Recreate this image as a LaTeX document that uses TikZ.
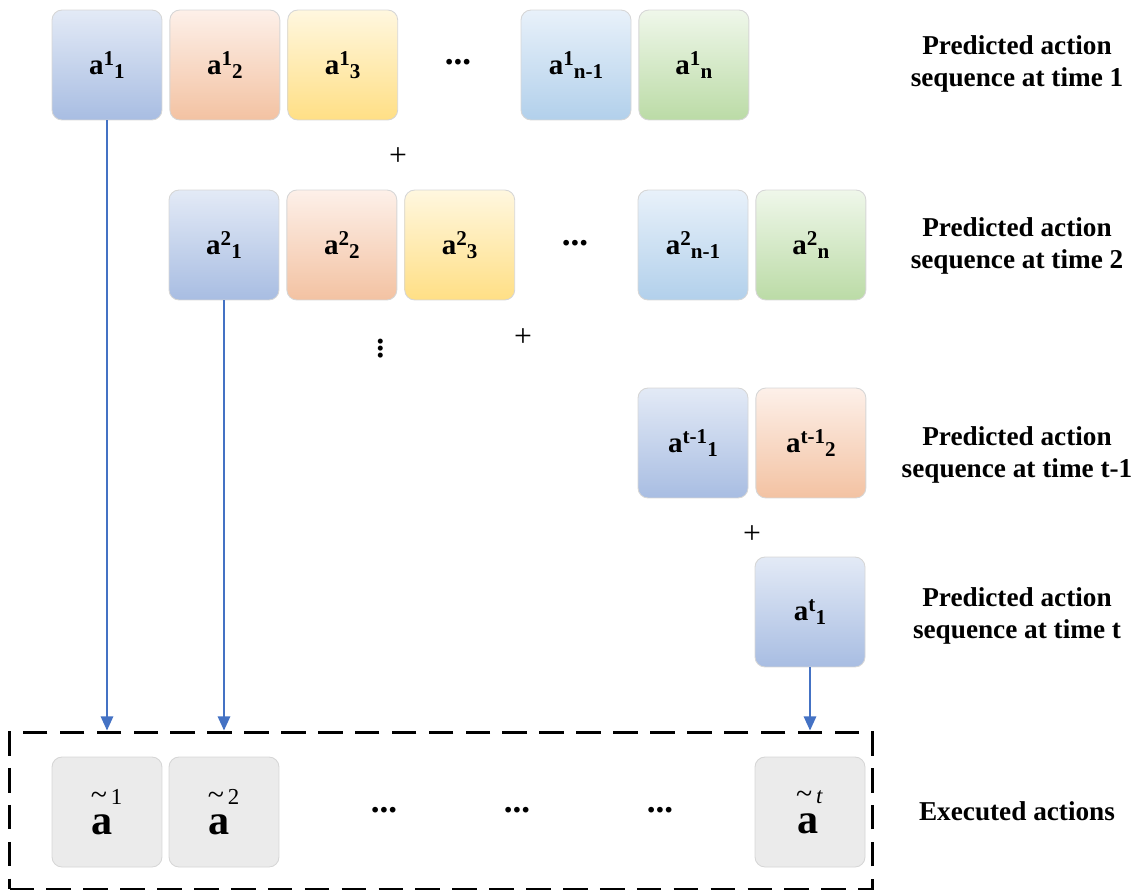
\documentclass[tikz,border=0pt]{standalone}
\usepackage{fontspec}
\setmainfont{Liberation Serif}
\usepackage{tikz}
\usetikzlibrary{positioning, arrows.meta}
\usepackage{xcolor}

\definecolor{arrowblue}{HTML}{4472C4}
\definecolor{edgegray}{HTML}{D6D6D6}

\newcommand{\seqa}[2]{\textbf{{\fontsize{16.5}{16.5}\selectfont a}\raisebox{5pt}{\fontsize{12}{12}\selectfont #1}\raisebox{-2.5pt}{\fontsize{12}{12}\selectfont #2}}}
\newcommand{\exa}[1]{{\fontsize{24}{24}\selectfont\textbf{a}}\hspace{-12.5pt}\raisebox{17pt}{\fontsize{13}{13}\selectfont{\fontsize{17}{17}\selectfont\textasciitilde}\,#1}}

\begin{document}
\begin{tikzpicture}[x=0.02cm, y=-0.02cm,
    blk/.style={rounded corners=0.2cm, draw=edgegray, line width=0.5pt,
        minimum width=2.2cm, minimum height=2.2cm, inner sep=0pt},
    bl/.style={blk, top color={rgb,255:red,227;green,234;blue,246}, bottom color={rgb,255:red,168;green,189;blue,226}},
    og/.style={blk, top color={rgb,255:red,253;green,240;blue,233}, bottom color={rgb,255:red,243;green,194;blue,162}},
    yl/.style={blk, top color={rgb,255:red,255;green,247;blue,223}, bottom color={rgb,255:red,255;green,223;blue,133}},
    lb/.style={blk, top color={rgb,255:red,232;green,241;blue,250}, bottom color={rgb,255:red,178;green,208;blue,235}},
    gn/.style={blk, top color={rgb,255:red,239;green,247;blue,234}, bottom color={rgb,255:red,187;green,219;blue,166}},
    gy/.style={blk, fill={rgb,255:red,235;green,235;blue,235}},
    lbl/.style={align=center, font=\fontsize{15.5}{18.7}\selectfont\bfseries},
    sym/.style={font=\fontsize{18}{18}\selectfont},
    dts/.style={font=\fontsize{20}{20}\selectfont\bfseries},
    flow/.style={-{Triangle[width=7pt,length=8pt]}, draw=arrowblue, line width=1.1pt}]
    \useasboundingbox (0,0) rectangle (1148,892);

    % time 1
    \node[bl] (a11) at (107,65) {\seqa{1}{1}};
    \node[og, right = 0.14cm of a11] (a12) {\seqa{1}{2}};
    \node[yl, right = 0.14cm of a12] (a13) {\seqa{1}{3}};
    \node[dts] (d1) at (458,62) {...};
    \node[lb] (a1m) at (576,65) {\seqa{1}{n-1}};
    \node[gn, right = 0.14cm of a1m] (a1n) {\seqa{1}{n}};

    % time 2
    \node[bl] (a21) at (224,245) {\seqa{2}{1}};
    \node[og, right = 0.14cm of a21] (a22) {\seqa{2}{2}};
    \node[yl, right = 0.14cm of a22] (a23) {\seqa{2}{3}};
    \node[dts] (d2) at (575,243) {...};
    \node[lb] (a2m) at (693,245) {\seqa{2}{n-1}};
    \node[gn, right = 0.14cm of a2m] (a2n) {\seqa{2}{n}};

    % time t-1 and t
    \node[bl] (at1) at (693,443) {\seqa{t-1}{1}};
    \node[og, right = 0.14cm of at1] (at2) {\seqa{t-1}{2}};
    \node[bl] (att) at (810,612) {\seqa{t}{1}};

    \node[sym] (p1) at (398,157) {+};
    \node[sym] (p2) at (523,338) {+};
    \node[sym] (p3) at (752,535) {+};
    \node[font=\fontsize{24}{24}\selectfont] (v1) at (381,343) {$\vdots$};

    % executed actions
    \node[draw, dash pattern=on 14pt off 7pt, line width=1.7pt,
        minimum width=17.26cm, minimum height=3.14cm] (ex) at (441,810.5) {};
    \node[gy] (e1) at (107,812) {\exa{1}};
    \node[gy] (e2) at (224,812) {\exa{2}};
    \node[gy] (et) at (810,812) {\exa{\textit{t}}};
    \node[dts] (d3) at (384,810) {...};
    \node[dts] (d4) at (517,810) {...};
    \node[dts] (d5) at (660,810) {...};

    % labels
    \node[lbl] (l1) at (1017,64) {Predicted action\\sequence at time 1};
    \node[lbl] (l2) at (1017,246) {Predicted action\\sequence at time 2};
    \node[lbl] (l3) at (1017,455) {Predicted action\\sequence at time t-1};
    \node[lbl] (l4) at (1017,616) {Predicted action\\sequence at time t};
    \node[lbl] (l5) at (1017,811) {Executed actions};

    \draw[flow] (a11) -- (a11 |- ex.north);
    \draw[flow] (a21) -- (a21 |- ex.north);
    \draw[flow] (att) -- (att |- ex.north);
\end{tikzpicture}
\end{document}
